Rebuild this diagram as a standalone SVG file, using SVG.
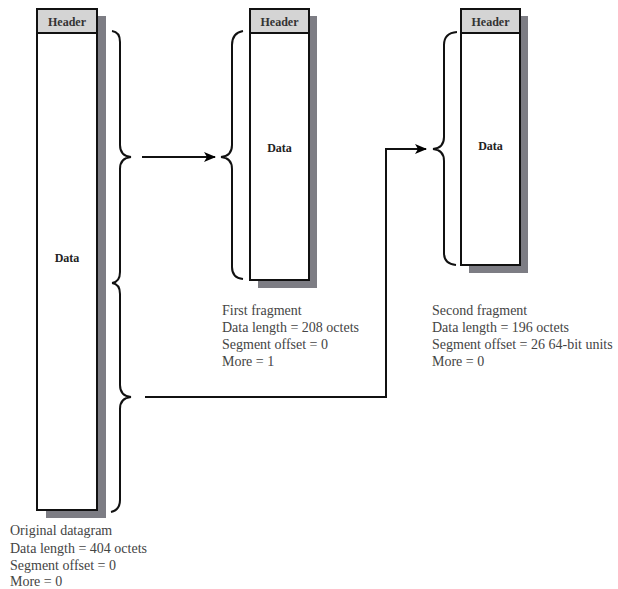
<svg xmlns="http://www.w3.org/2000/svg" width="618" height="589" viewBox="0 0 618 589">
<defs>
<marker id="ah" markerWidth="12" markerHeight="10" refX="11" refY="5" orient="auto" markerUnits="userSpaceOnUse">
<path d="M0,0 L12,5 L0,10 L3,5 Z" fill="#000"/>
</marker>
</defs>
<style>
.shadow{fill:#7d7d84}
.box{fill:#fff;stroke:#111;stroke-width:2}
.hdr{fill:#d4d4d4;stroke:#111;stroke-width:2}
.ht{font-family:"Liberation Serif",serif;font-weight:bold;font-size:12px;fill:#333;text-anchor:middle}
.dt{font-family:"Liberation Serif",serif;font-weight:bold;font-size:12px;fill:#222;text-anchor:middle}
.lbl{font-family:"Liberation Serif",serif;font-size:14px;fill:#444}
.brace{fill:none;stroke:#111;stroke-width:2}
.conn{fill:none;stroke:#111;stroke-width:2}
</style>
<rect width="618" height="589" fill="#fff"/>
<g id="original">
<rect class="shadow" x="46" y="16" width="60" height="502"/>
<rect class="box" x="37" y="9" width="60" height="501"/>
<rect class="hdr" x="37" y="9" width="60" height="24"/>
<text class="ht" x="67" y="26">Header</text>
<text class="dt" x="67" y="262">Data</text>
<path class="brace" d="M112,31 Q120,32 120,42 L120,145 Q120,156 131,157 Q120,158 120,169 L120,272 Q120,282 112,283"/>
<path class="brace" d="M112,283 Q120,284 120,294 L120,385 Q120,396 131,397 Q120,398 120,409 L120,500 Q120,510 111,512"/>
<text class="lbl" x="10" y="535">Original datagram</text>
<text class="lbl" x="10" y="553">Data length = 404 octets</text>
<text class="lbl" x="10" y="570">Segment offset = 0</text>
<text class="lbl" x="10" y="586">More = 0</text>
</g>
<g id="first">
<rect class="shadow" x="258" y="16" width="59" height="272"/>
<rect class="box" x="250" y="9" width="59" height="271"/>
<rect class="hdr" x="250" y="9" width="59" height="24"/>
<text class="ht" x="279.5" y="26">Header</text>
<text class="dt" x="279.5" y="152">Data</text>
<path class="brace" d="M243,31 Q232,33 232,45 L232,145 Q232,156 221,157 Q232,158 232,169 L232,267 Q232,278 243,279"/>
<text class="lbl" x="222" y="315">First fragment</text>
<text class="lbl" x="222" y="332">Data length = 208 octets</text>
<text class="lbl" x="222" y="349">Segment offset = 0</text>
<text class="lbl" x="222" y="366">More = 1</text>
</g>
<g id="second">
<rect class="shadow" x="469" y="16" width="59" height="257"/>
<rect class="box" x="461" y="9" width="59" height="256"/>
<rect class="hdr" x="461" y="9" width="59" height="24"/>
<text class="ht" x="490.5" y="26">Header</text>
<text class="dt" x="490.5" y="150">Data</text>
<path class="brace" d="M457,32 Q444,33 444,45 L444,137 Q444,148 433,149 Q444,150 444,161 L444,253 Q444,264 456,265"/>
<text class="lbl" x="432" y="315">Second fragment</text>
<text class="lbl" x="432" y="332">Data length = 196 octets</text>
<text class="lbl" x="432" y="349">Segment offset = 26 64-bit units</text>
<text class="lbl" x="432" y="366">More = 0</text>
</g>
<g id="connectors">
<path class="conn" d="M142,157 L215,157" marker-end="url(#ah)"/>
<path class="conn" d="M145,397 L386,397 L386,149 L426,149" marker-end="url(#ah)"/>
</g>
</svg>
